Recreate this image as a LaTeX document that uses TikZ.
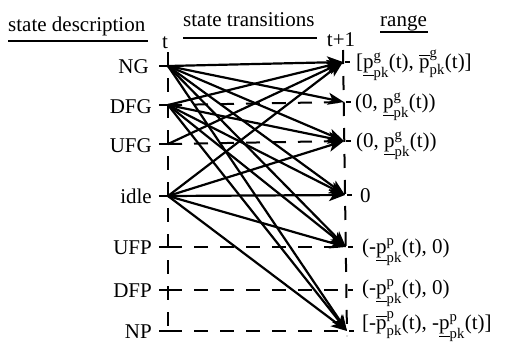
\documentclass[tikz,border=0pt]{standalone}
\usepackage{amsmath}
\usepackage{fontspec}
\setmainfont{Liberation Serif}
\usetikzlibrary{arrows.meta}
\newcommand{\plo}[1]{$\underline{\text{p}}^{\text{#1}}_{\text{pk}}$}
\newcommand{\pupper}[1]{$\overline{\text{p}}^{\text{#1}}_{\text{pk}}$}
\begin{document}
\begin{tikzpicture}[x={(1bp,0)},y={(0,-1bp)},
  every node/.style={inner sep=0pt,font=\fontsize{21bp}{25bp}\selectfont},
  arr/.style={line width=2.2bp,-{Stealth[length=16bp,width=12bp,inset=4bp]}},
  dsh/.style={line width=2bp,dash pattern=on 14bp off 12bp},
  tick/.style={line width=2bp},
  hdr/.style={line width=2bp}]
\useasboundingbox (0,0) rectangle (505,341);
% left points
\coordinate (L1) at (168,66);
\coordinate (L2) at (168,105);
\coordinate (L3) at (168,144);
\coordinate (L4) at (168,196);
\coordinate (L5) at (168,247);
\coordinate (L6) at (168,290);
\coordinate (L7) at (168,331);
% right points
\coordinate (R1) at (343,62);
\coordinate (R2) at (344,102);
\coordinate (R3) at (344,141);
\coordinate (R4) at (345,195);
\coordinate (R5) at (346,247);
\coordinate (R6) at (346,290);
\coordinate (R7) at (347,331);
\coordinate (LT) at (168,52);
\coordinate (RT) at (343,50);
\coordinate (RB) at (347,336);
% headers
\node[anchor=base west] (h1) at (8,31) {state description};
\draw[hdr] (8,41) -- (148,41);
\node[anchor=base west] (h2) at (183,26) {state transitions};
\draw[hdr] (183,38) -- (317,38);
\node[anchor=base west] (h3) at (380,26) {range};
\draw[hdr] (380,32) -- (428,32);
\node[anchor=base] (t0) at (165,48) {t};
\node[anchor=base] (t1) at (341,46) {t+1};
% left labels
\node[anchor=base east] (nNG) at (149,73) {NG};
\node[anchor=base east] (nDFG) at (152,113) {DFG};
\node[anchor=base east] (nUFG) at (152,152) {UFG};
\node[anchor=base east] (nidle) at (152,203) {idle};
\node[anchor=base east] (nUFP) at (152,254) {UFP};
\node[anchor=base east] (nDFP) at (152,297) {DFP};
\node[anchor=base east] (nNP) at (152,338) {NP};
% axes
\draw[dsh] (LT) -- (L7);
\draw[dsh] (RT) -- (RB);
\foreach \i in {1,...,7} {
  \draw[tick] ([xshift=-9bp]L\i) -- ([xshift=8bp]L\i);
  \draw[line width=1.4bp] ([xshift=2bp]R\i) -- ([xshift=7bp]R\i);
}
% dashed rows
\draw[dsh] (L2) -- (R2);
\draw[dsh] (L3) -- (R3);
\draw[dsh] (L5) -- (R5);
\draw[dsh] (L6) -- (R6);
\draw[dsh] (L7) -- (R7);
% transitions
\foreach \r in {1,2,3,4,5,7} \draw[arr] (L1) -- (R\r);
\foreach \r in {1,3,4,5,7} \draw[arr] (L2) -- (R\r);
\draw[arr] (L3) -- (R1);
\foreach \r in {1,3,4,5,7} \draw[arr] (L4) -- (R\r);
% right labels
\node[anchor=base west] (g1) at (356,68) {[\plo{g}(t), \pupper{g}(t)]};
\node[anchor=base west] (g2) at (355,108) {(0, \plo{g}(t))};
\node[anchor=base west] (g3) at (356,147) {(0, \plo{g}(t))};
\node[anchor=base west] (g4) at (360,202) {0};
\node[anchor=base west] (g5) at (362,253) {(-\plo{p}(t), 0)};
\node[anchor=base west] (g6) at (362,294) {(-\plo{p}(t), 0)};
\node[anchor=base west] (g7) at (362,329) {[-\pupper{p}(t), -\plo{p}(t)]};
\end{tikzpicture}
\end{document}
